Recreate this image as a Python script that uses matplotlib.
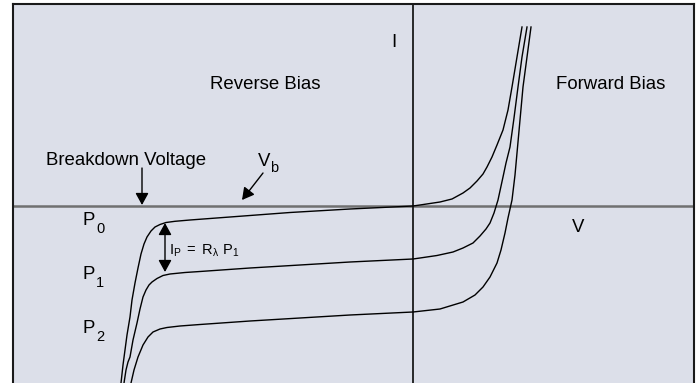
import matplotlib.pyplot as plt

plt.rcParams['font.family'] = ['Liberation Sans', 'DejaVu Sans']
plt.rcParams['mathtext.fontset'] = 'custom'
plt.rcParams['mathtext.rm'] = 'Liberation Sans'
plt.rcParams['mathtext.it'] = 'Liberation Sans'

# photodiode I-V curves for three light levels (V, I in arbitrary units)
v_p0 = [-2.92, -2.90, -2.88, -2.86, -2.83, -2.81, -2.78, -2.75, -2.72, -2.69,
        -2.66, -2.62, -2.58, -2.53, -2.47, -2.38, -2.23, -2.03, -1.63, -1.23,
        -0.63, 0.00, 0.07, 0.27, 0.39, 0.50, 0.57, 0.64, 0.70, 0.74, 0.79,
        0.84, 0.90, 0.95, 0.99, 1.04, 1.09]
i_p0 = [-1.77, -1.59, -1.44, -1.29, -1.11, -0.94, -0.77, -0.62, -0.48, -0.38,
        -0.31, -0.25, -0.21, -0.185, -0.165, -0.153, -0.14, -0.125, -0.095,
        -0.065, -0.03, 0.00, 0.01, 0.04, 0.07, 0.13, 0.18, 0.25, 0.32, 0.39,
        0.49, 0.61, 0.76, 0.96, 1.19, 1.49, 1.79]

v_p1 = [-2.89, -2.87, -2.85, -2.83, -2.80, -2.76, -2.73, -2.70, -2.67, -2.64,
        -2.61, -2.56, -2.50, -2.43, -2.28, -2.13, -1.63, -1.13, -0.63, 0.00,
        0.07, 0.24, 0.40, 0.50, 0.60, 0.67, 0.73, 0.77, 0.81, 0.85, 0.90,
        0.93, 0.97, 1.01, 1.05, 1.09, 1.14]
i_p1 = [-1.77, -1.64, -1.56, -1.51, -1.34, -1.17, -1.03, -0.91, -0.84, -0.79,
        -0.76, -0.725, -0.695, -0.68, -0.665, -0.655, -0.62, -0.59, -0.56,
        -0.53, -0.52, -0.495, -0.46, -0.42, -0.37, -0.30, -0.23, -0.17, -0.07,
        0.06, 0.29, 0.43, 0.59, 0.88, 1.19, 1.49, 1.79]

v_p2 = [-2.82, -2.79, -2.75, -2.70, -2.65, -2.60, -2.53, -2.46, -2.33, -2.13,
        -1.63, -1.13, -0.63, 0.00, 0.27, 0.50, 0.62, 0.70, 0.77, 0.84, 0.88,
        0.92, 0.95, 0.99, 1.02, 1.04, 1.07, 1.10, 1.14, 1.18]
i_p2 = [-1.77, -1.64, -1.51, -1.39, -1.31, -1.26, -1.23, -1.215, -1.20,
        -1.185, -1.15, -1.12, -1.09, -1.06, -1.03, -0.96, -0.89, -0.81, -0.71,
        -0.57, -0.44, -0.27, -0.12, 0.06, 0.31, 0.53, 0.86, 1.19, 1.49, 1.79]

curves = [(v_p0, i_p0), (v_p1, i_p1), (v_p2, i_p2)]

fig = plt.figure(figsize=(6.99, 3.83), dpi=100)
ax = fig.add_axes([13 / 699, 0, 681 / 699, 1 - 4 / 383])
ax.set_facecolor('#dcdfe9')
ax.set_xlim(-4.0, 2.81)
ax.set_ylim(-1.77, 2.02)
ax.set_xticks([])
ax.set_yticks([])
for side in ['left', 'top', 'right']:
    ax.spines[side].set_linewidth(1.5)
    ax.spines[side].set_color('#1a1a1a')
ax.spines['bottom'].set_visible(False)

# axes through the origin
ax.axhline(0, color='#707070', lw=1.8, zorder=1)
ax.axvline(0, color='#1a1a1a', lw=1.3, zorder=1)

for v, i in curves:
    ax.plot(v, i, color='black', lw=1.0, zorder=2, solid_joinstyle='round')

fs = 13.4
sub_fs = 10.5


def label(x, y, main, sub, dx, dy):
    ax.text(x, y, main, fontsize=fs, ha='left', va='baseline')
    ax.text(x + dx, y - dy, sub, fontsize=sub_fs, ha='left', va='baseline')


ax.text(-1.48, 1.17, 'Reverse Bias', fontsize=fs, ha='center', va='baseline')
ax.text(1.975, 1.17, 'Forward Bias', fontsize=fs, ha='center', va='baseline')
ax.text(-0.195, 1.59, 'I', fontsize=fs, ha='center', va='baseline')
ax.text(1.65, -0.26, 'V', fontsize=fs, ha='center', va='baseline')
ax.text(-3.67, 0.41, 'Breakdown Voltage', fontsize=fs, ha='left', va='baseline')
label(-1.55, 0.40, 'V', 'b', 0.12, 0.06)

for lab, y in [('0', -0.19), ('1', -0.73), ('2', -1.27)]:
    label(-3.30, y, 'P', lab, 0.13, 0.08)

ax.text(-2.44, -0.49, r'$\mathregular{I_P\ =\ R_\lambda\ P_1}$', fontsize=10.5,
        ha='left', va='baseline')

head = '-|>,head_length=0.4,head_width=0.22'
ax.annotate('', xy=(-2.71, 0.01), xytext=(-2.71, 0.38),
            arrowprops=dict(arrowstyle=head, color='black', lw=1.0,
                            mutation_scale=18, shrinkA=0, shrinkB=0))
ax.annotate('', xy=(-1.71, 0.06), xytext=(-1.50, 0.33),
            arrowprops=dict(arrowstyle=head, color='black', lw=1.0,
                            mutation_scale=18, shrinkA=0, shrinkB=0))
ax.annotate('', xy=(-2.48, -0.17), xytext=(-2.48, -0.66),
            arrowprops=dict(arrowstyle='<|-|>,head_length=0.4,head_width=0.22',
                            color='black', lw=1.0,
                            mutation_scale=18, shrinkA=0, shrinkB=0))

fig.savefig('out.png', dpi=100)
